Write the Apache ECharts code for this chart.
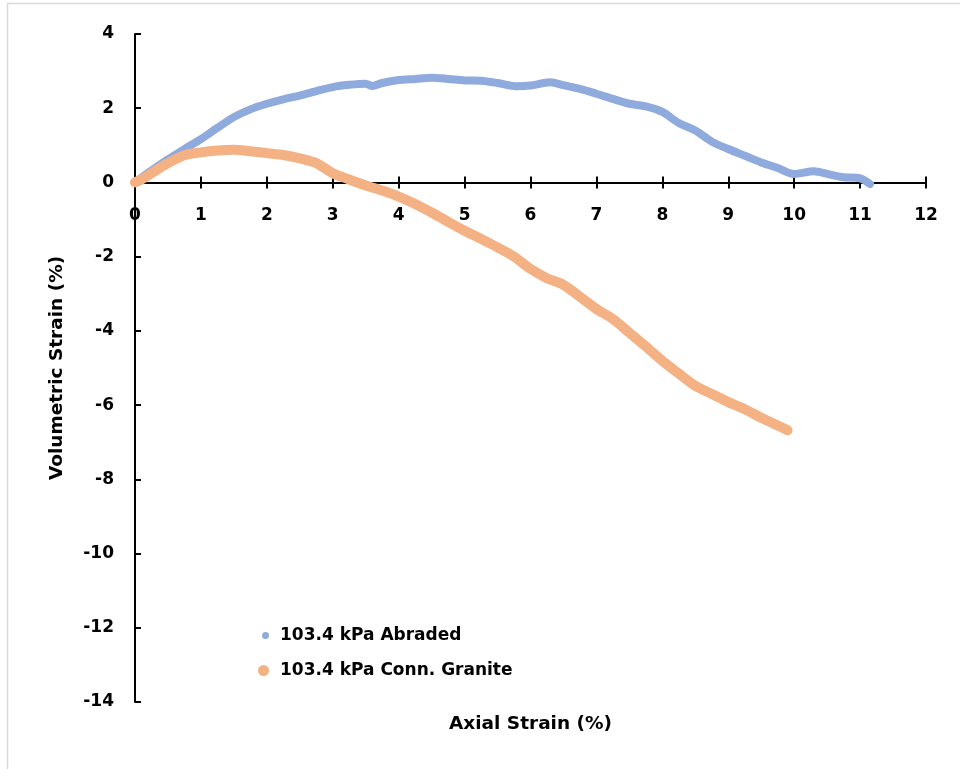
<!DOCTYPE html>
<html>
<head>
<meta charset="utf-8">
<script src="https://cdn.jsdelivr.net/npm/echarts@6/dist/echarts.min.js"></script>
<style>html,body{margin:0;padding:0;background:#fff;}#c{width:960px;height:769px;}</style>
</head>
<body>
<div id="c"></div>
<script>
var seriesNames = ['103.4 kPa Abraded', '103.4 kPa Conn. Granite'];
var abradedX = [0, 0.25, 0.5, 0.75, 1, 1.25, 1.5, 1.75, 2, 2.25, 2.5, 2.75, 3, 3.25, 3.5, 3.6, 3.75, 4, 4.25, 4.5, 4.75, 5, 5.25, 5.5, 5.8, 6, 6.3, 6.5, 6.75, 7, 7.25, 7.5, 7.75, 8, 8.25, 8.5, 8.75, 9, 9.25, 9.5, 9.75, 10, 10.3, 10.5, 10.75, 11, 11.15];
var abradedY = [0, 0.32, 0.62, 0.9, 1.17, 1.47, 1.76, 1.97, 2.12, 2.24, 2.34, 2.46, 2.57, 2.63, 2.66, 2.6, 2.68, 2.76, 2.79, 2.82, 2.79, 2.75, 2.74, 2.68, 2.59, 2.61, 2.70, 2.62, 2.52, 2.39, 2.25, 2.12, 2.05, 1.9, 1.6, 1.4, 1.1, 0.9, 0.72, 0.54, 0.39, 0.23, 0.30, 0.23, 0.14, 0.11, -0.04];
var graniteX = [0, 0.1, 0.25, 0.5, 0.75, 1, 1.25, 1.5, 1.75, 2, 2.25, 2.5, 2.75, 3, 3.25, 3.5, 3.75, 4, 4.25, 4.5, 4.75, 5, 5.25, 5.5, 5.75, 6, 6.25, 6.5, 6.75, 7, 7.25, 7.5, 7.75, 8, 8.25, 8.5, 8.75, 9, 9.25, 9.5, 9.75, 9.9];
var graniteY = [0, 0.08, 0.25, 0.52, 0.73, 0.81, 0.86, 0.88, 0.84, 0.79, 0.74, 0.65, 0.52, 0.25, 0.08, -0.08, -0.22, -0.38, -0.58, -0.81, -1.06, -1.3, -1.52, -1.75, -2.0, -2.33, -2.58, -2.76, -3.08, -3.41, -3.68, -4.05, -4.42, -4.81, -5.15, -5.48, -5.70, -5.92, -6.11, -6.34, -6.55, -6.68];
var xTickMin = 0, xTickMax = 12, xTickStep = 1;
var yTickMin = -14, yTickMax = 4, yTickStep = 2;
var xTitle = 'Axial Strain (%)';
var yTitle = 'Volumetric Strain (%)';

function pairs(xs, ys) { return xs.map(function (x, i) { return [x, ys[i]]; }); }

var W = 960, H = 769;
var G = { left: 135, right: 34, top: 34, bottom: 67 };
var gridH = H - G.top - G.bottom;
// distance from the grid bottom up to the y = 0 line (x axis crosses there)
var zeroUp = gridH * (0 - yTickMin) / (yTickMax - yTickMin);

var FONT = 'DejaVu Sans';
var chart = echarts.init(document.getElementById('c'), null, { renderer: 'canvas' });
var labelStyle = { color: '#000', fontWeight: 'bold', fontSize: 17, fontFamily: FONT };
var legendText = { color: '#000', fontWeight: 'bold', fontSize: 17, fontFamily: FONT };
var axisLineStyle = { color: '#000', width: 2 };
chart.setOption({
  backgroundColor: '#fff',
  animation: false,
  graphic: [{
    type: 'rect', silent: true,
    shape: { x: 7.5, y: 3.5, width: 970, height: 800 },
    style: { fill: null, stroke: '#d9d9d9', lineWidth: 1.5 }
  }],
  grid: { left: G.left, right: G.right, top: G.top, bottom: G.bottom, containLabel: false, outerBoundsMode: 'none' },
  legend: [{
    data: [seriesNames[0]], orient: 'vertical', left: 262, top: 627, padding: 0,
    icon: 'circle', itemWidth: 19, itemHeight: 7, symbolKeepAspect: true,
    textStyle: legendText
  }, {
    data: [seriesNames[1]], orient: 'vertical', left: 258, top: 662, padding: 0,
    icon: 'circle', itemWidth: 23, itemHeight: 11, symbolKeepAspect: true,
    textStyle: legendText
  }],
  xAxis: [{
    type: 'value', min: xTickMin, max: xTickMax, interval: xTickStep,
    position: 'bottom', offset: -zeroUp,
    axisLine: { onZero: false, lineStyle: axisLineStyle },
    axisTick: { show: true, length: 6, lineStyle: axisLineStyle },
    axisLabel: Object.assign({ margin: 25 }, labelStyle),
    splitLine: { show: false },
    name: xTitle, nameLocation: 'middle', nameGap: zeroUp + 13,
    nameTextStyle: { color: '#000', fontWeight: 'bold', fontSize: 18.5, fontFamily: FONT }
  }, {
    type: 'value', min: xTickMin, max: xTickMax, interval: xTickStep,
    position: 'bottom', offset: -zeroUp,
    axisLine: { show: false, onZero: false },
    axisTick: { show: true, inside: true, length: 6, lineStyle: axisLineStyle },
    axisLabel: { show: false },
    splitLine: { show: false }
  }],
  yAxis: {
    type: 'value', min: yTickMin, max: yTickMax, interval: yTickStep,
    axisLine: { onZero: false, lineStyle: axisLineStyle },
    axisTick: { show: true, inside: true, length: 6, lineStyle: axisLineStyle },
    axisLabel: Object.assign({ margin: 21 }, labelStyle),
    splitLine: { show: false },
    name: yTitle, nameLocation: 'middle', nameGap: 68, nameRotate: 90,
    nameTextStyle: { color: '#000', fontWeight: 'bold', fontSize: 18.5, fontFamily: FONT }
  },
  series: [{
    name: seriesNames[0], type: 'line', xAxisIndex: 0, data: pairs(abradedX, abradedY),
    showSymbol: false, smooth: 0.3, color: '#8FAADC',
    lineStyle: { width: 8, color: '#8FAADC', cap: 'round', join: 'round' },
    itemStyle: { color: '#8FAADC' }
  }, {
    name: seriesNames[1], type: 'line', xAxisIndex: 0, data: pairs(graniteX, graniteY),
    showSymbol: false, smooth: 0.3, color: '#F4B183',
    lineStyle: { width: 10, color: '#F4B183', cap: 'round', join: 'round' },
    itemStyle: { color: '#F4B183' }
  }]
});
</script>
</body>
</html>
